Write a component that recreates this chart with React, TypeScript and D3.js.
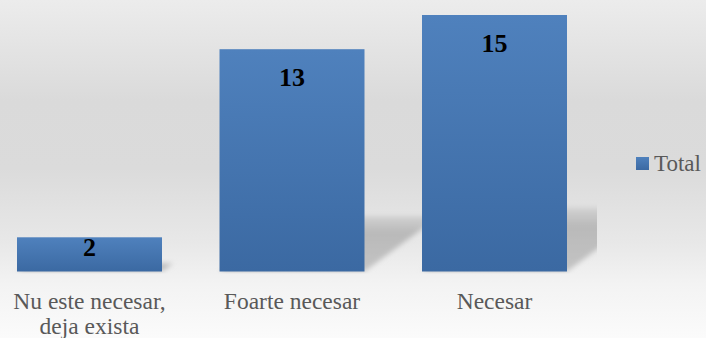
import React from 'react';
import * as d3 from 'd3';

const categories: string[] = ['Nu este necesar,|deja exista', 'Foarte necesar', 'Necesar'];
const values: number[] = [2, 13, 15];
const seriesName = 'Total';

const W = 706;
const H = 338;

export default function App() {
  const x = d3.scaleBand<string>().domain(categories).range([-11.75, 595.75]).paddingInner(0.284).paddingOuter(0.142);
  const y = d3.scaleLinear().domain([0, 15]).range([271.5, 15]);
  const base = y(0);
  const bw = x.bandwidth();
  const font = 'Liberation Serif';

  const shadowPath = (c: string, v: number) => {
    const x0 = x(c)!;
    const x1 = x0 + bw;
    const sh = 0.25 * (base - y(v));
    const sk = 1.35 * sh;
    const p = d3.path();
    p.moveTo(x0, base);
    p.lineTo(x1, base);
    p.lineTo(x1 + sk, base - sh);
    p.lineTo(x0 + sk, base - sh);
    p.closePath();
    return p.toString();
  };

  return (
    <svg width={W} height={H} style={{ position: 'absolute', left: 0, top: 0 }}>
      <defs>
        <linearGradient id="bg" x1="0" y1="0" x2="0" y2="1">
          <stop offset="0" stopColor="#ececec" />
          <stop offset="0.3" stopColor="#dadada" />
          <stop offset="0.5" stopColor="#dbdbdb" />
          <stop offset="0.72" stopColor="#e8e8e8" />
          <stop offset="0.84" stopColor="#f3f3f3" />
          <stop offset="1" stopColor="#fbfbfb" />
        </linearGradient>
        <linearGradient id="bar" x1="0" y1="0" x2="0" y2="1">
          <stop offset="0" stopColor="#4f81bd" />
          <stop offset="1" stopColor="#3b69a2" />
        </linearGradient>
        <linearGradient id="shd" x1="0" y1="0" x2="0" y2="1">
          <stop offset="0" stopColor="#d2d2d2" />
          <stop offset="0.3" stopColor="#b9b9b9" />
          <stop offset="1" stopColor="#c4c4c4" />
        </linearGradient>
        <filter id="blur" x="-0.2" y="-0.5" width="1.4" height="2">
          <feGaussianBlur stdDeviation="2.5" />
        </filter>
        <clipPath id="plotClip">
          <rect x={0} y={0} width={597} height={base + 2} />
        </clipPath>
      </defs>
      <rect x={0} y={0} width={W} height={H} fill="url(#bg)" />
      <g clipPath="url(#plotClip)">
        {categories.map((c, i) => (
          <path key={c} d={shadowPath(c, values[i])} fill="url(#shd)" filter="url(#blur)" />
        ))}
      </g>
      {categories.map((c, i) => (
        <rect key={c} x={x(c)} y={y(values[i])} width={bw} height={base - y(values[i])} fill="url(#bar)" />
      ))}
      {categories.map((c, i) => {
        const cx = x(c)! + bw / 2;
        const by = Math.min(y(values[i]) + 37, base - 16);
        return (
          <text key={c} x={cx} y={by} textAnchor="middle" style={{ fontFamily: font }} fontWeight="bold" fontSize={26} fill="#000">
            {values[i]}
          </text>
        );
      })}
      {categories.map((c) => {
        const cx = x(c)! + bw / 2;
        const lines = c.split('|');
        return (
          <g key={c}>
            {lines.map((ln, j) => (
              <text key={j} x={cx} y={309 + j * 24.7} textAnchor="middle" style={{ fontFamily: font }} fontSize={23.5} fill="#595959">
                {ln}
              </text>
            ))}
          </g>
        );
      })}
      <rect x={636} y={157} width={13} height={13} fill="url(#bar)" />
      <text x={654} y={171} style={{ fontFamily: font }} fontSize={23} fill="#595959">
        {seriesName}
      </text>
    </svg>
  );
}
